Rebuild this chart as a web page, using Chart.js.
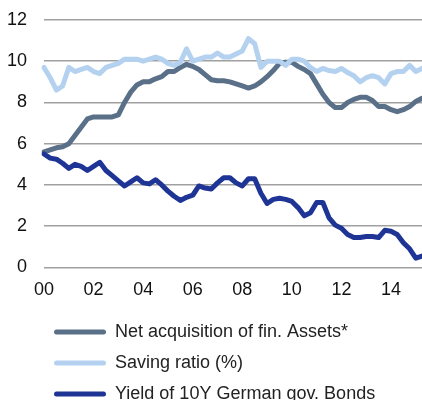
<!DOCTYPE html>
<html>
<head>
<meta charset="utf-8">
<script src="https://cdn.jsdelivr.net/npm/chart.js@4"></script>
<style>
  html, body { margin: 0; padding: 0; background: #fff; }
  #wrap { width: 422px; height: 400px; position: relative; }
</style>
</head>
<body>
<div id="wrap"><canvas id="myChart"></canvas></div>
<script>
// Datos trimestrales 2000 Q1 - 2015 Q2
let yearTicks = ['00', '02', '04', '06', '08', '10', '12', '14'];

let quarters = [];
for (let y = 2000; y <= 2015; y++) {
    for (let q = 1; q <= 4; q++) {
        if (y === 2015 && q > 2) break;
        quarters.push(y + ' Q' + q);
    }
}

let netAcquisition = [
    5.6, 5.7, 5.8, 5.85, 6.0, 6.4, 6.8, 7.2, 7.3, 7.3,
    7.3, 7.3, 7.4, 8.0, 8.5, 8.85, 9.0, 9.0, 9.15, 9.25,
    9.5, 9.5, 9.7, 9.85, 9.75, 9.6, 9.35, 9.1, 9.05, 9.05,
    9.0, 8.9, 8.8, 8.7, 8.8, 9.0, 9.25, 9.55, 9.9, 9.95,
    9.95, 9.75, 9.6, 9.4, 8.9, 8.4, 8.0, 7.75, 7.75, 8.0,
    8.15, 8.25, 8.25, 8.1, 7.8, 7.8, 7.65, 7.55, 7.65, 7.8,
    8.05, 8.2
];

let savingRatio = [
    9.7, 9.2, 8.6, 8.8, 9.7, 9.5, 9.6, 9.7, 9.5, 9.4,
    9.7, 9.8, 9.9, 10.1, 10.1, 10.1, 10.0, 10.1, 10.2, 10.1,
    9.9, 9.8, 9.95, 10.6, 10.0, 10.1, 10.2, 10.2, 10.4, 10.2,
    10.2, 10.35, 10.5, 11.1, 10.85, 9.7, 10.0, 10.0, 10.0, 9.8,
    10.1, 10.1, 10.0, 9.7, 9.5, 9.65, 9.55, 9.5, 9.65, 9.45,
    9.3, 9.0, 9.2, 9.3, 9.2, 8.9, 9.4, 9.5, 9.5, 9.8,
    9.5, 9.65
];

let bundYield = [
    5.5, 5.3, 5.25, 5.05, 4.8, 5.0, 4.9, 4.7, 4.9, 5.1,
    4.7, 4.45, 4.2, 3.95, 4.15, 4.35, 4.1, 4.05, 4.25, 4.0,
    3.7, 3.45, 3.25, 3.4, 3.5, 3.95, 3.85, 3.8, 4.1, 4.35,
    4.35, 4.1, 3.95, 4.3, 4.3, 3.6, 3.1, 3.3, 3.35, 3.3,
    3.2, 2.9, 2.5, 2.65, 3.15, 3.15, 2.4, 2.05, 1.9, 1.6,
    1.45, 1.45, 1.5, 1.5, 1.45, 1.8, 1.75, 1.6, 1.2, 0.9,
    0.45, 0.55
];

let seriesNames = ['Net acquisition of fin. Assets*', 'Saving ratio (%)', 'Yield of 10Y German gov. Bonds'];
let seriesColors = ['#5a7089', '#b4d2f0', '#1f3596'];

function serie(i, values, order) {
    return {
        label: seriesNames[i],
        data: values,
        borderColor: seriesColors[i],
        backgroundColor: seriesColors[i],
        borderWidth: 5,
        pointRadius: 0,
        tension: 0,
        borderJoinStyle: 'round',
        borderCapStyle: 'round',
        order: order
    };
}

// Mueve la leyenda un poco a la izquierda, como en el original
let legendShift = {
    id: 'legendShift',
    afterLayout: function (chart) {
        chart.legend.left -= 3;
    }
};

let ctx = document.getElementById('myChart');

let myChart = new Chart(ctx, {
    type: 'line',
    data: {
        labels: quarters,
        datasets: [
            serie(0, netAcquisition, 2),
            serie(1, savingRatio, 1),
            serie(2, bundYield, 0)
        ]
    },
    options: {
        responsive: true,
        maintainAspectRatio: false,
        animation: false,
        layout: {
            padding: { left: 8, top: 20, right: 0, bottom: -13 }
        },
        scales: {
            x: {
                offset: false,
                grid: { display: false },
                border: { display: false },
                afterFit: function (s) {
                    s.paddingLeft = 0;
                    s.paddingRight = 0;
                    s.height += 5;
                },
                ticks: {
                    autoSkip: false,
                    maxRotation: 0,
                    padding: 4,
                    color: '#111',
                    font: { family: 'Liberation Sans', size: 18 },
                    callback: function (v, i) {
                        return i % 8 === 0 ? yearTicks[i / 8] : '';
                    }
                }
            },
            y: {
                min: 0,
                max: 12,
                grid: { color: '#a0a0a0', lineWidth: 1.5, drawTicks: false },
                border: { display: false },
                afterFit: function (s) {
                    s.width = 36;
                    s.paddingTop = 0;
                },
                ticks: {
                    stepSize: 2,
                    padding: 17,
                    color: '#111',
                    font: { family: 'Liberation Sans', size: 18 }
                }
            }
        },
        plugins: {
            tooltip: { enabled: false },
            legend: {
                position: 'bottom',
                align: 'start',
                fullSize: false,
                labels: {
                    boxWidth: 52,
                    boxHeight: 5,
                    padding: 13,
                    color: '#222',
                    font: { family: 'Liberation Sans', size: 18 },
                    useBorderRadius: true,
                    borderRadius: 2.5,
                    generateLabels: function (chart) {
                        let items = Chart.defaults.plugins.legend.labels.generateLabels(chart);
                        items.forEach(function (it) { it.lineWidth = 0; });
                        return items.sort(function (a, b) { return a.datasetIndex - b.datasetIndex; });
                    }
                }
            }
        }
    },
    plugins: [legendShift]
});
</script>
</body>
</html>
